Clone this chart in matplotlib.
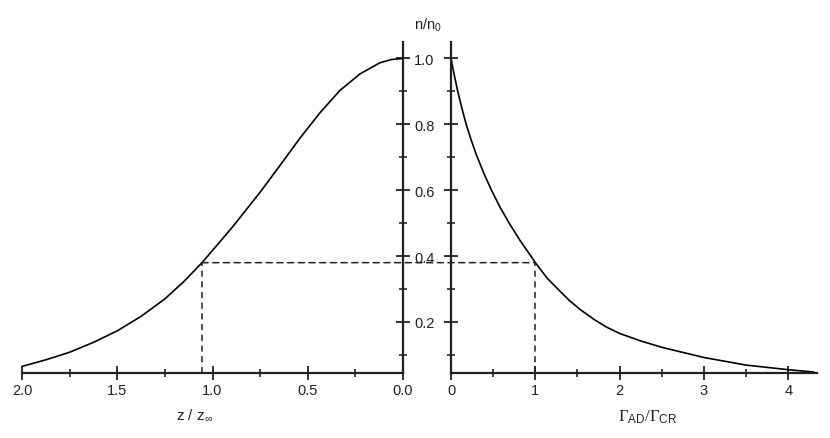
import matplotlib.pyplot as plt
from matplotlib.patches import ConnectionPatch

plt.rcParams['font.family'] = ['Liberation Sans', 'DejaVu Sans']
plt.rcParams['mathtext.fontset'] = 'custom'
plt.rcParams['mathtext.rm'] = 'Liberation Serif'
plt.rcParams['mathtext.it'] = 'Liberation Sans:italic'
plt.rcParams['mathtext.sf'] = 'Liberation Sans'

# left panel: density vs height
z_vals = [2.0, 1.875, 1.75, 1.625, 1.5, 1.375, 1.25, 1.15, 1.055, 0.96, 0.89,
          0.75, 0.646, 0.541, 0.436, 0.331, 0.226, 0.121, 0.06, 0.0]
n_left = [0.065, 0.085, 0.108, 0.138, 0.173, 0.217, 0.27, 0.323, 0.38, 0.444, 0.492,
          0.594, 0.675, 0.758, 0.835, 0.903, 0.953, 0.987, 0.997, 1.0]

# right panel: density vs damping ratio
gamma_vals = [0.0, 0.04, 0.08, 0.13, 0.18, 0.24, 0.30, 0.39, 0.48, 0.58, 0.69,
              0.82, 0.95, 1.0, 1.14, 1.29, 1.4, 1.53, 1.7, 1.847, 2.0, 2.242, 2.5,
              2.677, 3.0, 3.5, 4.0, 4.3]
n_right = [1.0, 0.948, 0.90, 0.848, 0.80, 0.752, 0.708, 0.651, 0.60, 0.549, 0.50,
           0.447, 0.399, 0.38, 0.333, 0.294, 0.266, 0.238, 0.207, 0.184, 0.165, 0.143,
           0.123, 0.112, 0.092, 0.069, 0.055, 0.048]

# dashed guide
z_cross = 1.055
gamma_cross = 1.0
n_cross = 0.38

z_ticks = [2.0, 1.5, 1.0, 0.5, 0.0]
z_minor = [1.75, 1.25, 0.75, 0.25]
z_labels = ['2.0', '1.5', '1.0', '0.5', '0.0']
g_ticks = [0, 1, 2, 3, 4]
g_minor = [0.5, 1.5, 2.5, 3.5]
g_labels = ['0', '1', '2', '3', '4']
y_ticks = [0.2, 0.4, 0.6, 0.8, 1.0]
y_minor = [0.1, 0.3, 0.5, 0.7, 0.9]
y_labels = ['0.2', '0.4', '0.6', '0.8', '1.0']

W, H = 830, 439
fig = plt.figure(figsize=(W / 100, H / 100), dpi=100)
ax1 = fig.add_axes([22 / W, 65 / H, 381 / W, 331 / H])
ax2 = fig.add_axes([451 / W, 65 / H, 366 / W, 331 / H])

ink = '#222222'
ymin, ymax = 0.045, 1.05

ax1.plot(z_vals, n_left, color='black', lw=1.2, clip_on=False,
         solid_joinstyle='round')
ax1.plot([z_cross, z_cross], [ymin, n_cross], color=ink, lw=1.1, ls=(0, (4, 3)))
ax1.set_xlim(2.0, 0.0)
ax1.set_ylim(ymin, ymax)

ax2.plot(gamma_vals, n_right, color='black', lw=1.2, clip_on=False,
         solid_joinstyle='round')
ax2.plot([gamma_cross, gamma_cross], [ymin, n_cross], color=ink, lw=1.1, ls=(0, (4, 3)))
ax2.set_xlim(0, 4.34)
ax2.set_ylim(ymin, ymax)

con = ConnectionPatch(xyA=(z_cross, n_cross), coordsA=ax1.transData,
                      xyB=(gamma_cross, n_cross), coordsB=ax2.transData,
                      color=ink, lw=1.1, ls=(0, (4, 3)))
fig.add_artist(con)

for ax in (ax1, ax2):
    ax.set_facecolor('none')
    for s in ax.spines.values():
        s.set_visible(False)
    ax.spines['bottom'].set_visible(True)
    ax.spines['bottom'].set_linewidth(1.6)
    ax.spines['bottom'].set_color(ink)
    ax.tick_params(which='major', direction='inout', length=10, width=1.3,
                   color=ink, labelsize=10.5, labelcolor=ink)
    ax.tick_params(which='minor', direction='inout', length=6, width=1.2, color=ink)
    ax.tick_params(axis='x', pad=2)

ax1.spines['right'].set_visible(True)
ax1.spines['right'].set_linewidth(1.6)
ax1.spines['right'].set_color(ink)
ax1.yaxis.tick_right()
ax1.tick_params(axis='y', pad=3)
ax1.set_yticks(y_ticks)
ax1.set_yticklabels(y_labels)
ax1.set_yticks(y_minor, minor=True)
ax1.set_xticks(z_ticks)
ax1.set_xticklabels(z_labels)
ax1.set_xticks(z_minor, minor=True)
ax1.set_xlabel(r'z / z$_{\mathsf{\infty}}$', fontsize=11, color=ink)
ax1.xaxis.set_label_coords(0.454, -0.103)

ax2.spines['left'].set_visible(True)
ax2.spines['left'].set_linewidth(1.6)
ax2.spines['left'].set_color(ink)
ax2.set_yticks(y_ticks)
ax2.set_yticklabels([])
ax2.set_yticks(y_minor, minor=True)
ax2.set_xticks(g_ticks)
ax2.set_xticklabels(g_labels)
ax2.set_xticks(g_minor, minor=True)
ax2.set_xlabel(r'$\Gamma_{\mathsf{AD}}/\Gamma_{\mathsf{CR}}$', fontsize=12, color=ink)
ax2.xaxis.set_label_coords(0.538, -0.103)

fig.text(428 / W, 1 - 25 / H, r'n/n$_{\mathsf{0}}$', ha='center', va='center',
         fontsize=10.5, color=ink)

fig.savefig('out.png', dpi=100)
